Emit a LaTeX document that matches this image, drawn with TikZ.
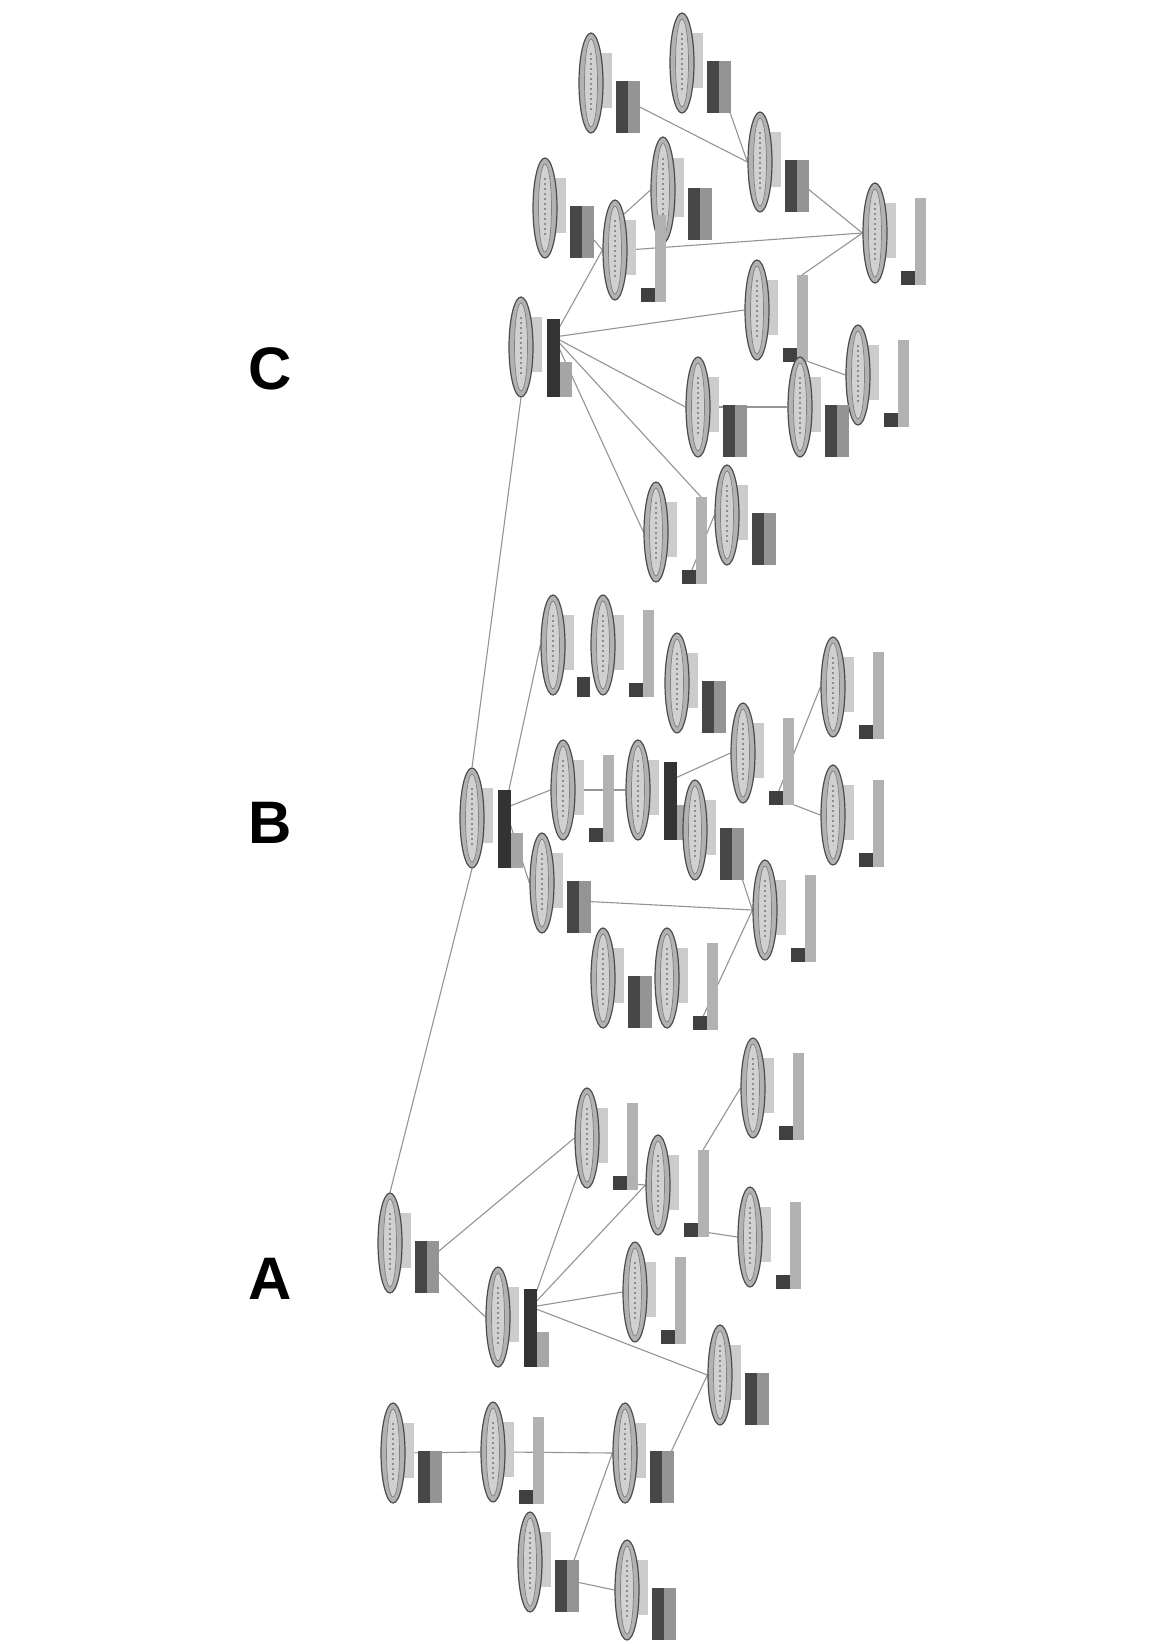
\documentclass[tikz,border=0pt]{standalone}
\usepackage{fontspec}
\setmainfont{Liberation Sans}
\usetikzlibrary{shapes.geometric,calc}
\pgfdeclarelayer{bg}
\pgfsetlayers{bg,main}
\tikzset{
  ell/.style={ellipse, draw=black!70, fill=black!30, line width=1.2pt, minimum width=24pt, inner sep=0pt},
  conn/.style={draw=black!42, line width=1.1pt},
  lbl/.style={font=\fontsize{60}{60}\selectfont\bfseries, text=black, inner sep=0pt},
}
\newcommand\ellp[4]{%
  \fill[black!20] (#2+7,#3-#4*0.3) rectangle (#2+21,#3+#4*0.25);
  \node[ell, minimum height=#4pt] (#1) at (#2,#3) {};
  \draw[black!50, fill=black!18, line width=0.7pt] (#2,#3) ellipse [x radius=6.5pt, y radius=#4*0.44pt];
  \draw[black!45, line width=2.2pt, dash pattern=on 2pt off 3pt] (#2,#3-#4*0.3) -- (#2,#3+#4*0.3);
}
\newcommand\ndD[4][100]{%
  \ellp{#2}{#3}{#4}{#1}
  \fill[black!72] (#3+25,#4-2) rectangle (#3+37,#4+50);
  \fill[black!42] (#3+37,#4-2) rectangle (#3+49,#4+50);
  \coordinate (#2-b) at (#3+37,#4+18);
}
\newcommand\ndT[4][100]{%
  \ellp{#2}{#3}{#4}{#1}
  \fill[black!30] (#3+40,#4-35) rectangle (#3+51,#4+52);
  \fill[black!75] (#3+26,#4+38) rectangle (#3+40,#4+52);
  \coordinate (#2-b) at (#3+33,#4+45);
  \coordinate (#2-t) at (#3+45,#4-35);
}
\newcommand\ndR[4][100]{%
  \ellp{#2}{#3}{#4}{#1}
  \fill[black!80] (#3+26,#4-28) rectangle (#3+39,#4+50);
  \fill[black!35] (#3+39,#4+15) rectangle (#3+51,#4+50);
  \coordinate (#2-b) at (#3+33,#4-10);
}
\newcommand\ndS[4][100]{%
  \ellp{#2}{#3}{#4}{#1}
  \fill[black!75] (#3+24,#4+32) rectangle (#3+37,#4+52);
  \coordinate (#2-b) at (#3+30,#4+42);
}
\begin{document}
\begin{tikzpicture}[x=1pt,y=-1pt]
\useasboundingbox (0,0) rectangle (1151,1644);
% ---- C
\ndD{c1}{591}{83}
\ndD{c2}{682}{63}
\ndD{c3}{760}{162}
\ndD{c4}{545}{208}
\ndD[106]{c5}{663}{190}
\ndT{c6}{615}{250}
\ndT{c7}{875}{233}
\ndR{c8}{521}{347}
\ndT{c9}{757}{310}
\ndT{c10}{858}{375}
\ndD{c11}{698}{407}
\ndD{c12}{800}{407}
\ndT{c13}{656}{532}
\ndD{c14}{727}{515}
% ---- B
\ndR{b0}{472}{818}
\ndS{b1}{553}{645}
\ndT{b2}{603}{645}
\ndD{b3}{677}{683}
\ndT{b4}{743}{753}
\ndT{b5}{833}{687}
\ndT{b6}{833}{815}
\ndT{b7}{563}{790}
\ndR{b8}{638}{790}
\ndD{b9}{695}{830}
\ndD{b10}{542}{883}
\ndT{b11}{765}{910}
\ndD{b12}{603}{978}
\ndT{b13}{667}{978}
% ---- A
\ndD{a0}{390}{1243}
\ndT{a1}{587}{1138}
\ndT{a2}{658}{1185}
\ndT{a3}{753}{1088}
\ndT{a4}{750}{1237}
\ndR{a5}{498}{1317}
\ndT{a6}{635}{1292}
\ndD{a7}{720}{1375}
\ndD{a8}{393}{1453}
\ndT{a9}{493}{1452}
\ndD{a10}{625}{1453}
\ndD{a11}{530}{1562}
\ndD{a12}{627}{1590}
% labels
\node[lbl] (labC) at (270,369) {C};
\node[lbl] (labB) at (270,823) {B};
\node[lbl] (labA) at (270,1279) {A};
\begin{pgfonlayer}{bg}
\fill[white] (0,0) rectangle (1151,1644);
\draw[conn] (c1-b) -- (c3.west);
\draw[conn] (c2-b) -- (c3.west);
\draw[conn] (c3-b) -- (c7.west);
\draw[conn] (c4-b) -- (c6.west);
\draw[conn] (c6.north east) -- (c5.west);
\draw[conn] (c6.east) -- (c7.west);
\draw[conn] (c9-t) -- (c7.west);
\draw[conn] (c8-b) -- (c6.west);
\draw[conn] (c8-b) -- (c9.west);
\draw[conn] (c8-b) -- (c11.west);
\draw[conn] (c11.east) -- (c12.west);
\draw[conn] (c9-b) -- (c10.west);
\draw[conn] (c8-b) -- (c13.west);
\draw[conn] (c8-b) -- (c13-t);
\draw[conn] (c13-b) -- (c14.west);
\draw[conn] (a0.north) -- (b0.south);
\draw[conn] (b0.north) -- (c8.south);
\draw[conn] (b0-b) -- (b1.west);
\draw[conn] (b0-b) -- (b7.west);
\draw[conn] (b7.east) -- (b8.west);
\draw[conn] (b8-b) -- (b4.west);
\draw[conn] (b4-b) -- (b5.west);
\draw[conn] (b4-b) -- (b6.west);
\draw[conn] (b0-b) -- (b10.west);
\draw[conn] (b10-b) -- (b11.west);
\draw[conn] (b9-b) -- (b11.west);
\draw[conn] (b13-b) -- (b11.west);
\draw[conn] (a0-b) -- (a1.west);
\draw[conn] (a0-b) -- (a5.west);
\draw[conn] (a5-b) -- (a1.south west);
\draw[conn] (a5-b) -- (a2.west);
\draw[conn] (a1-b) -- (a2.west);
\draw[conn] (a2-t) -- (a3.west);
\draw[conn] (a2-b) -- (a4.west);
\draw[conn] (a5-b) -- (a6.west);
\draw[conn] (a5-b) -- (a7.west);
\draw[conn] (a10-b) -- (a7.west);
\draw[conn] (a8.east) -- (a9.west);
\draw[conn] (a9.east) -- (a10.west);
\draw[conn] (a11-b) -- (a10.west);
\draw[conn] (a11-b) -- (a12.west);
\end{pgfonlayer}
\end{tikzpicture}
\end{document}
